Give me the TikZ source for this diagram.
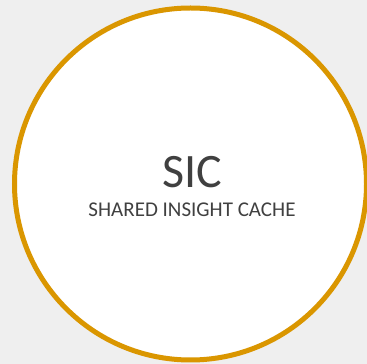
\documentclass[tikz,border=0pt]{standalone}
\usepackage{fontspec}
\setmainfont{Carlito}
\definecolor{ringorange}{RGB}{218,150,0}
\definecolor{bggray}{RGB}{239,239,239}
\definecolor{textgray}{RGB}{64,64,64}
\tikzset{
  ring/.style={circle, draw=ringorange, line width=5pt, fill=white, minimum size=352pt, inner sep=0pt},
  titletext/.style={text=textgray, font=\fontsize{48}{48}\selectfont, inner sep=0pt, anchor=base},
  subtext/.style={text=textgray, font=\fontsize{21}{21}\selectfont, inner sep=0pt, anchor=base}
}
\begin{document}
\begin{tikzpicture}[x=1pt,y=1pt]
  \fill[bggray] (0,0) rectangle (367,364);
  \useasboundingbox (0,0) rectangle (367,364);
  \begin{scope}
    \clip (0,0) rectangle (367,364);
    \node[ring] (cache) at (190.5,180) {};
  \end{scope}
  \node[titletext] (sic) at (192,176) {SIC};
  \node[subtext] (full) at (192,147) {SHARED INSIGHT CACHE};
\end{tikzpicture}
\end{document}
